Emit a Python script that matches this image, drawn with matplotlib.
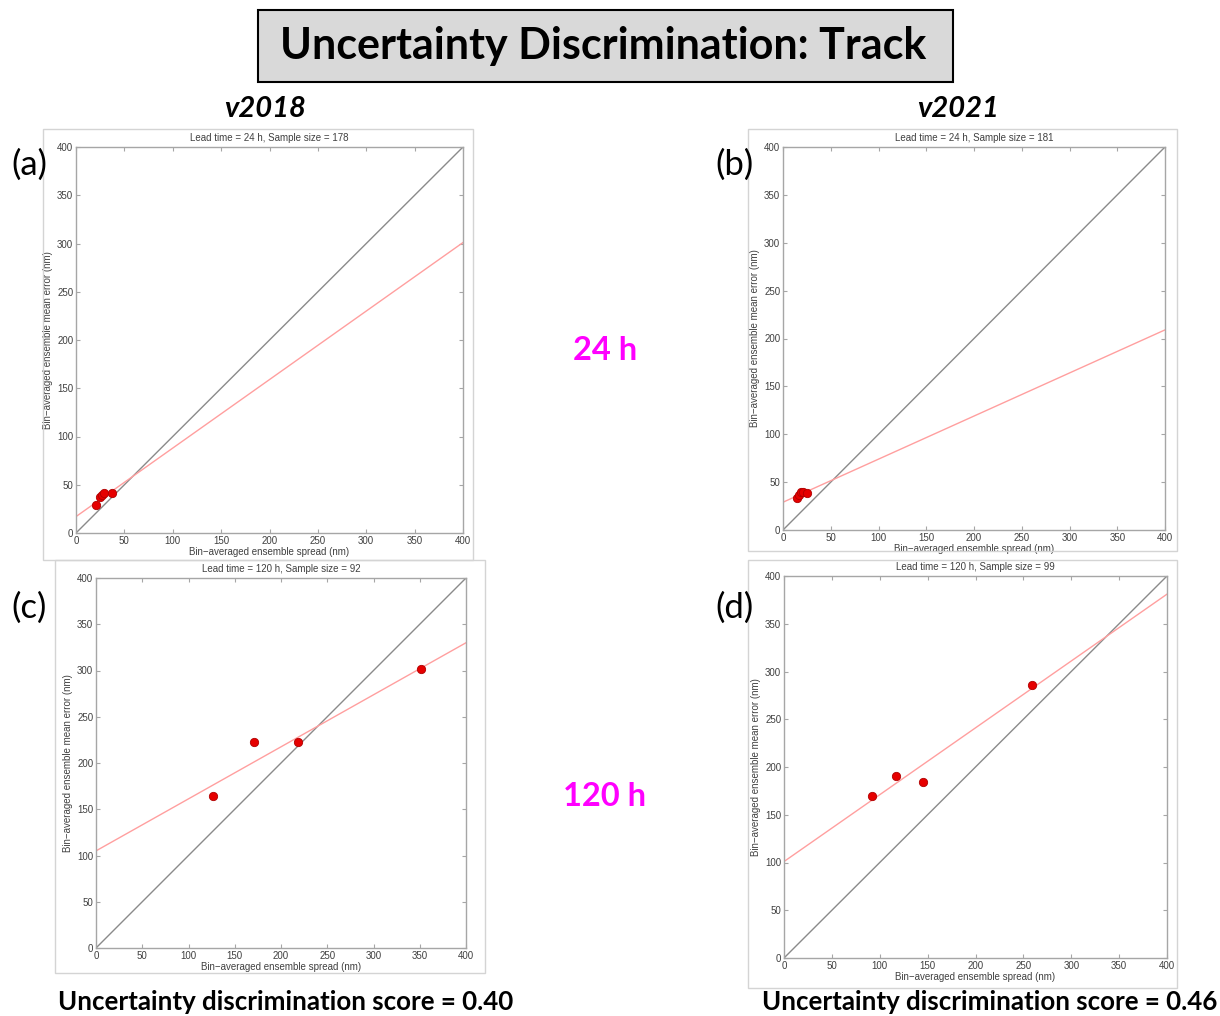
import numpy as np
import matplotlib
matplotlib.use("Agg")
import matplotlib.pyplot as plt
from matplotlib.patches import Rectangle

W, H = 1220, 1016

# panel data
panel_tags = ["(a)", "(b)", "(c)", "(d)"]
sample_titles = ["Lead time = 24 h, Sample size = 178",
                 "Lead time = 24 h, Sample size = 181",
                 "Lead time = 120 h, Sample size = 92",
                 "Lead time = 120 h, Sample size = 99"]
spread = [[21, 25, 27, 29, 37],
          [15, 17, 19, 21, 25],
          [127, 171, 218, 351],
          [92, 117, 145, 259]]
mean_err = [[29, 37, 39, 41, 41],
            [33, 37, 40, 40, 39],
            [164, 223, 223, 302],
            [170, 191, 184, 286]]
fit_intercept = [17, 29, 105, 101]
fit_slope = [0.71, 0.45, 0.5625, 0.70]
ticks = [0, 50, 100, 150, 200, 250, 300, 350, 400]
versions = ["v2018", "v2021"]
leads = ["24 h", "120 h"]
scores = ["Uncertainty discrimination score = 0.40",
          "Uncertainty discrimination score = 0.46"]

# layout in pixels: axes box (left, top, right, bottom), screenshot frame
ax_px = [(76, 147, 463, 533), (783, 147, 1165, 530),
         (96, 578, 466, 948), (784, 576, 1167, 958)]
frame_px = [(43, 129, 473, 560), (748, 129, 1177, 551),
            (55, 560, 485, 973), (748, 560, 1177, 988)]
tag_px = [(29, 165), (735, 165), (29, 608), (735, 608)]


def fx(x):
    return x / W


def fy(y):
    return 1 - y / H


fig = plt.figure(figsize=(W / 100, H / 100), dpi=100)

# title box
fig.patches.append(Rectangle((fx(258), fy(82)), fx(953 - 258), (82 - 10) / H,
                             transform=fig.transFigure, facecolor="#d9d9d9",
                             edgecolor="black", lw=1.5))
fig.text(fx(603), fy(46), "Uncertainty Discrimination: Track", ha="center",
         va="center", fontsize=31, fontweight="bold", family="Lato")

for k, v in enumerate(versions):
    fig.text(fx([265, 958][k]), fy(109), v, ha="center", va="center",
             fontsize=21, fontweight="bold", style="italic", family="Lato")

for k, lab in enumerate(leads):
    fig.text(fx(605), fy([351, 797][k]), lab, ha="center", va="center",
             fontsize=23.5, fontweight="bold", color="#ff00ff", family="Lato")

for k, s in enumerate(scores):
    fig.text(fx([286, 990][k]), fy(1002), s, ha="center", va="center",
             fontsize=18.6, fontweight="bold", family="Lato")

axcol = "#a6a6a6"
txtcol = "#404040"

for i in range(4):
    l, t, r, b = frame_px[i]
    fig.patches.append(Rectangle((fx(l), fy(b)), fx(r - l), (b - t) / H,
                                 transform=fig.transFigure, facecolor="none",
                                 edgecolor="#d4d4d4", lw=1))
    l, t, r, b = ax_px[i]
    ax = fig.add_axes([fx(l), fy(b), fx(r - l), (b - t) / H])
    ax.axline((0, 0), slope=1, color="#8a8a8a", lw=1)
    ax.axline((0, fit_intercept[i]), slope=fit_slope[i], color="#ff9f9f", lw=1)
    ax.plot(spread[i], mean_err[i], "o", color="#e60000", mec="#b00000",
            mew=0.6, ms=6)
    ax.set_xlim(0, 400)
    ax.set_ylim(0, 400)
    ax.set_xticks(ticks)
    ax.set_yticks(ticks)
    ax.tick_params(direction="in", length=3, width=0.8, color=axcol,
                   labelsize=7, labelcolor=txtcol, pad=2,
                   top=True, right=True)
    for sp in ax.spines.values():
        sp.set_color(axcol)
        sp.set_linewidth(1)
    for lbl in ax.get_xticklabels() + ax.get_yticklabels():
        lbl.set_family("Liberation Sans")
    ax.set_title(sample_titles[i], fontsize=7, color=txtcol, pad=4,
                 family="Liberation Sans")
    ax.set_xlabel("Bin\u2212averaged ensemble spread (nm)", fontsize=7,
                  color=txtcol, labelpad=1, family="Liberation Sans")
    ax.set_ylabel("Bin\u2212averaged ensemble mean error (nm)", fontsize=7,
                  color=txtcol, labelpad=3, family="Liberation Sans")
    fig.text(fx(tag_px[i][0]), fy(tag_px[i][1]), panel_tags[i], ha="center",
             va="center", fontsize=25, family="Lato")

fig.savefig("out.png", dpi=100)
